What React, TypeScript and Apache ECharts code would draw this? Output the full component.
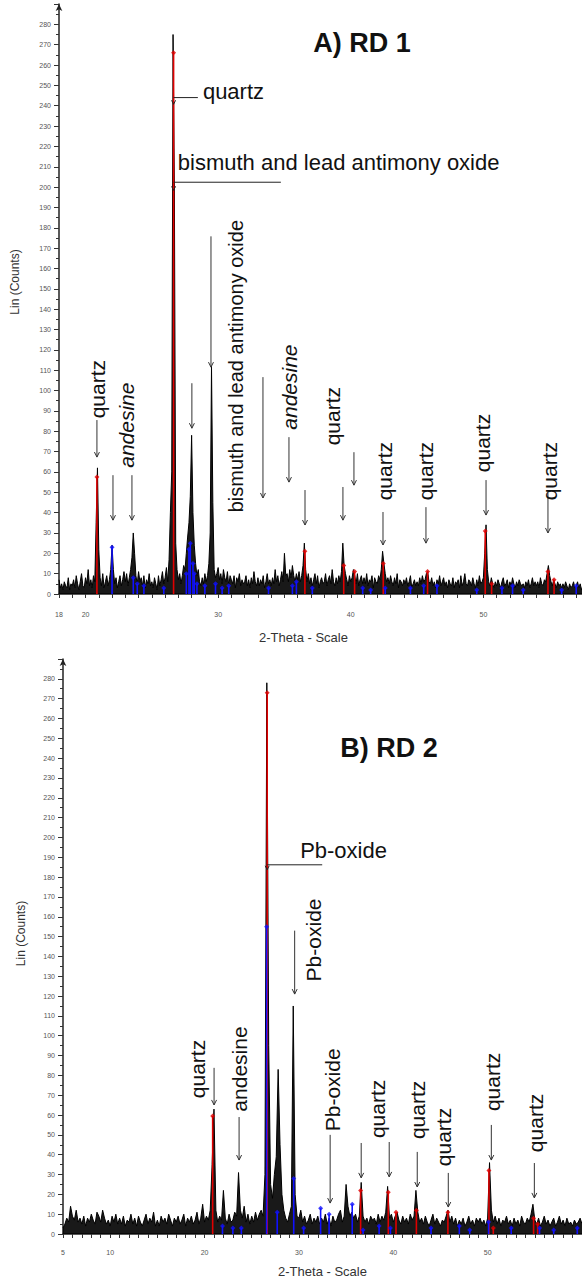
import { useEffect, useRef } from 'react';
import * as echarts from 'echarts';

// ---------- RD 1 measured pattern (2θ from 18.0, step 0.1) ----------
const rd1Start = 18;
const rd1Step = 0.1;
const rd1Counts = [
  7, 3, 5, 2, 6, 4, 3, 8, 2, 5,
  4, 7, 3, 9, 5, 2, 6, 10, 4, 3,
  8, 5, 12, 4, 7, 3, 9, 6, 35, 62,
  22, 8, 4, 10, 3, 6, 9, 4, 7, 12,
  24, 12, 5, 8, 3, 6, 9, 4, 7, 11,
  6, 10, 4, 8, 12, 18, 30, 20, 9, 5,
  11, 6, 8, 4, 9, 3, 7, 5, 10, 4,
  6, 3, 8, 5, 2, 9, 4, 7, 11, 5,
  8, 13, 6, 17, 40, 60, 275, 200, 25, 12,
  7, 10, 5, 9, 14, 12, 20, 28, 35, 48,
  78, 40, 24, 15, 9, 12, 6, 4, 8, 5,
  10, 6, 9, 15, 30, 112, 45, 12, 8, 10,
  13, 7, 10, 5, 12, 8, 6, 11, 4, 9,
  7, 5, 9, 3, 8, 6, 10, 4, 7, 5,
  6, 9, 4, 7, 3, 8, 5, 11, 6, 4,
  8, 4, 7, 5, 9, 3, 6, 10, 5, 7,
  4, 8, 5, 12, 6, 9, 4, 7, 11, 6,
  20, 9, 10, 6, 12, 8, 14, 9, 6, 10,
  7, 11, 6, 9, 14, 25, 12, 6, 10, 5,
  8, 4, 7, 10, 5, 9, 3, 6, 8, 5,
  6, 10, 4, 7, 9, 5, 12, 6, 4, 8,
  5, 9, 6, 11, 25, 14, 10, 7, 4, 9,
  6, 8, 12, 9, 5, 10, 4, 7, 9, 5,
  8, 5, 10, 4, 7, 6, 9, 3, 8, 6,
  5, 9, 7, 12, 21, 15, 10, 6, 8, 5,
  9, 6, 4, 8, 5, 10, 3, 7, 6, 4,
  7, 5, 8, 4, 6, 9, 3, 5, 7, 4,
  6, 4, 8, 5, 9, 6, 7, 10, 11, 6,
  5, 8, 4, 6, 3, 7, 5, 9, 4, 6,
  8, 4, 6, 3, 7, 5, 4, 8, 3, 6,
  5, 7, 3, 9, 4, 6, 10, 5, 4, 7,
  6, 4, 8, 5, 3, 7, 4, 9, 5, 6,
  8, 20, 34, 12, 6, 4, 8, 5, 3, 6,
  4, 7, 5, 3, 6, 8, 4, 5, 7, 3,
  6, 4, 8, 5, 3, 6, 4, 7, 5, 4,
  5, 3, 6, 4, 7, 3, 5, 8, 4, 6,
  4, 6, 3, 8, 5, 4, 7, 6, 10, 14,
  9, 6, 4, 7, 5, 3, 6, 4, 5, 3,
  5, 3, 6, 4, 2, 5, 3, 4, 6, 3,
  4, 6, 3, 5, 2, 4, 6, 3, 5, 4,
  3,
];

// reference patterns RD 1: [2θ, counts]
const rd1Quartz = [
  [20.86, 57.5], [26.64, 266], [36.54, 21], [39.47, 14], [40.29, 11], [42.45, 15],
  [45.79, 11], [50.14, 31], [50.62, 5], [54.87, 11], [55.33, 7],
];
const rd1Andesine = [
  [22.0, 23], [23.6, 8], [23.9, 5], [24.4, 4], [25.9, 3], [27.6, 10], [27.8, 22],
  [27.9, 25], [28.1, 15], [28.2, 10], [28.4, 5], [29.0, 4], [29.8, 5], [30.3, 3],
  [30.8, 4], [33.8, 3], [35.6, 4], [35.9, 6], [37.1, 3], [40.9, 3], [41.5, 2],
  [42.6, 3], [44.5, 3], [45.5, 4], [46.5, 4], [49.5, 2], [51.4, 3], [52.2, 4],
  [53.0, 2], [55.9, 2], [57.0, 4],
];

// ---------- RD 2 measured pattern (2θ from 5.0, step 0.2) ----------
const rd2Start = 5;
const rd2Step = 0.2;
const rd2Counts = [
  3, 5, 8, 6, 14,
  9, 7, 12, 6, 8,
  5, 9, 4, 8, 6,
  10, 7, 5, 11, 9,
  6, 12, 8, 5, 7,
  4, 9, 6, 10, 5,
  8, 5, 9, 4, 7,
  6, 10, 5, 8, 4,
  9, 6, 4, 7, 10,
  5, 8, 6, 11, 4,
  7, 4, 9, 6, 8,
  5, 10, 7, 4, 8,
  6, 9, 5, 7, 10,
  4, 8, 6, 9, 5,
  7, 11, 5, 8, 15,
  6, 9, 7, 12, 35,
  63, 12, 6, 9, 7,
  22, 8, 5, 10, 6,
  7, 11, 9, 31, 12,
  8, 14, 6, 10, 5,
  9, 6, 11, 7, 10,
  12, 9, 30, 278, 95,
  25, 18, 30, 39, 83,
  45, 20, 12, 8, 6,
  10, 14, 115, 20, 9,
  8, 12, 6, 9, 5,
  7, 10, 5, 8, 6,
  9, 5, 8, 6, 10,
  5, 8, 4, 9, 6,
  7, 10, 12, 6, 9,
  25, 14, 9, 11, 8,
  10, 6, 9, 26, 9,
  6, 8, 5, 9, 7,
  8, 5, 10, 6, 9,
  7, 11, 24, 8, 10,
  6, 9, 11, 7, 5,
  9, 6, 8, 5, 10,
  7, 9, 22, 11, 6,
  8, 5, 9, 6, 4,
  7, 10, 5, 8, 6,
  4, 7, 6, 9, 12,
  6, 9, 5, 8, 4,
  7, 5, 8, 4, 6,
  9, 5, 7, 4, 8,
  6, 8, 5, 7, 4,
  8, 36, 12, 6, 9,
  5, 8, 4, 7, 6,
  9, 5, 7, 4, 8,
  5, 7, 4, 9, 6,
  5, 8, 6, 10, 15,
  7, 5, 8, 4, 6,
  9, 5, 7, 4, 6,
  8, 4, 6, 9, 5,
  7, 4, 8, 5, 6,
  4, 7, 5, 6, 8,
  5,
];

const rd2Quartz = [
  [20.86, 59.5], [26.64, 273], [36.54, 22], [39.47, 21], [40.29, 11], [42.45, 12],
  [45.79, 11], [50.14, 32], [50.6, 3], [54.87, 8], [55.3, 5],
];
const rd2Other = [
  [26.58, 155], [27.7, 11], [29.45, 28], [32.3, 13], [33.2, 10], [35.65, 15],
  [21.9, 4], [23.0, 3], [23.9, 3], [30.5, 3], [36.8, 2], [38.5, 4], [39.7, 3],
  [44.0, 3], [47.0, 4], [48.1, 2], [50.1, 6], [52.5, 3], [55.5, 3], [57.0, 2], [59.5, 3],
];

// tick labels
const rd1XTicks = [18, 20, 30, 40, 50];
const rd2XTicks = [5, 10, 20, 30, 40, 50];
const yTickMax = 280;

// annotations: [text, 2θ, counts, kind]  kind: v = vertical, vi = vertical italic, vs = vertical small, h = horizontal
const rd1Labels: [string, number, number, string][] = [
  ['quartz', 20.94, 100.7, 'v'],
  ['andesine', 23.12, 83, 'vi'],
  ['bismuth and lead antimony oxide', 31.34, 112, 'vs'],
  ['andesine', 35.41, 101.7, 'vi'],
  ['quartz', 38.66, 87.4, 'v'],
  ['quartz', 42.58, 60.4, 'v'],
  ['quartz', 45.67, 60.4, 'v'],
  ['quartz', 49.9, 74.2, 'v'],
  ['quartz', 54.95, 60.4, 'v'],
  ['quartz', 28.85, 247, 'h'],
  ['bismuth and lead antimony oxide', 26.96, 212, 'h'],
];
// arrows: [2θ, from counts, to counts]
const rd1Arrows = [
  [20.86, 85.5, 67.3], [22.07, 58.4, 36.3], [23.5, 58.4, 36.3], [28.02, 103.6, 81.5],
  [29.46, 175.8, 111.5], [33.38, 106.6, 47.2], [35.34, 77.1, 55], [36.55, 51.1, 33.9],
  [39.41, 52.6, 36.3], [40.24, 69.7, 53.5], [42.43, 40.3, 24.1], [45.67, 42.7, 25],
  [50.2, 56, 38.8], [54.87, 49.6, 30],
];
// leaders: [peak 2θ, end 2θ, line counts, arrow tip counts]
const rd1Leaders = [
  [26.64, 28.47, 244, 240.7],
  [26.64, 34.73, 202.4, 198.4],
];

const rd2Labels: [string, number, number, string][] = [
  ['quartz', 19.21, 83.2, 'v'],
  ['andesine', 23.66, 83.2, 'v'],
  ['Pb-oxide', 31.51, 148.3, 'v'],
  ['Pb-oxide', 33.53, 72.7, 'v'],
  ['quartz', 38.3, 63.1, 'v'],
  ['quartz', 42.54, 62.6, 'v'],
  ['quartz', 45.3, 48.9, 'v'],
  ['quartz', 50.49, 76.7, 'v'],
  ['quartz', 55.05, 56, 'v'],
  ['Pb-oxide', 30.13, 193.2, 'h'],
];
const rd2Arrows = [
  [21.01, 83.8, 65.1], [23.66, 59, 37.3], [29.55, 153, 121], [33.31, 50, 15.6],
  [36.6, 45.9, 28.3], [39.57, 46.4, 28.8], [42.54, 41.4, 23.7], [45.83, 30.8, 13.6],
  [50.39, 55, 37.3], [54.95, 35.8, 18.2],
];
const rd2Leaders = [
  [26.64, 32.47, 186.2, 183.7],
];

const FONT = "'Liberation Sans', Arial, sans-serif";

function toSeries(start: number, step: number, counts: number[]) {
  return counts.map((c, i) => [+(start + i * step).toFixed(2), c]);
}

function xAxis(gridIndex: number, min: number, ticks: number[], margin: number, nameGap: number, namePad: number[]) {
  return {
    type: 'value', gridIndex, min, max: 60, interval: 1,
    axisLine: { lineStyle: { color: '#222', width: 1.5 } },
    axisTick: { length: 4, lineStyle: { color: '#333', width: 1 } },
    axisLabel: {
      fontSize: 7, color: '#555', fontFamily: FONT, margin,
      formatter: (v: number) => (ticks.includes(v) ? String(v) : ''),
    },
    splitLine: { show: false },
    name: '2-Theta - Scale', nameLocation: 'middle', nameGap,
    nameTextStyle: { fontSize: 13, color: '#333', fontFamily: FONT, padding: namePad },
  };
}

function yAxis(gridIndex: number, nameGap: number, namePad: number[]) {
  return {
    type: 'value', gridIndex, min: 0, max: 290, interval: 10,
    axisLine: { symbol: ['none', 'arrow'], symbolSize: [5, 7], lineStyle: { color: '#222', width: 1.5 } },
    axisTick: { length: 5, lineStyle: { color: '#333' } },
    minorTick: { show: true, splitNumber: 2, length: 3, lineStyle: { color: '#333' } },
    axisLabel: {
      fontSize: 7, color: '#555', fontFamily: FONT, margin: 8,
      formatter: (v: number) => (v <= yTickMax ? String(v) : ''),
    },
    splitLine: { show: false },
    name: 'Lin (Counts)', nameLocation: 'middle', nameGap,
    nameTextStyle: { fontSize: 12, color: '#333', fontFamily: FONT, padding: namePad },
  };
}

function stickSeries(g: number, data: number[][], color: string) {
  return [
    {
      type: 'custom', xAxisIndex: g, yAxisIndex: g, z: 3, silent: true,
      data,
      renderItem: (_p: any, api: any) => {
        const a = api.coord([api.value(0), 0]);
        const b = api.coord([api.value(0), api.value(1)]);
        return { type: 'line', shape: { x1: a[0], y1: a[1], x2: b[0], y2: b[1] }, style: { stroke: color, lineWidth: 1.6 } };
      },
    },
    {
      type: 'scatter', xAxisIndex: g, yAxisIndex: g, z: 5, silent: true,
      data, symbol: 'diamond', symbolSize: 5, itemStyle: { color },
    },
  ];
}

function labelSeries(g: number, labels: [string, number, number, string][]) {
  return {
    type: 'custom', xAxisIndex: g, yAxisIndex: g, z: 6, silent: true,
    data: labels.map((l) => [l[1], l[2]]),
    renderItem: (p: any, api: any) => {
      const l = labels[p.dataIndex];
      const pt = api.coord([api.value(0), api.value(1)]);
      const kind = l[3];
      const horiz = kind === 'h';
      return {
        type: 'text', x: pt[0], y: pt[1], rotation: horiz ? 0 : Math.PI / 2,
        style: {
          text: l[0], fill: '#111', fontFamily: FONT,
          fontSize: kind === 'vs' ? 20 : horiz ? 22 : 21,
          fontStyle: kind === 'vi' ? 'italic' : 'normal',
          align: horiz ? 'left' : 'center', verticalAlign: 'middle',
        },
      };
    },
  };
}

function arrowSeries(g: number, arrows: number[][]) {
  return {
    type: 'custom', xAxisIndex: g, yAxisIndex: g, z: 4, silent: true,
    data: arrows,
    renderItem: (_p: any, api: any) => {
      const a = api.coord([api.value(0), api.value(1)]);
      const b = api.coord([api.value(0), api.value(2)]);
      return {
        type: 'group',
        children: [
          { type: 'line', shape: { x1: a[0], y1: a[1], x2: b[0], y2: b[1] }, style: { stroke: '#333', lineWidth: 1 } },
          { type: 'polyline', shape: { points: [[b[0] - 2.5, b[1] - 5], [b[0], b[1]], [b[0] + 2.5, b[1] - 5]] }, style: { stroke: '#333', lineWidth: 1, fill: null } },
        ],
      };
    },
  };
}

function leaderSeries(g: number, leaders: number[][]) {
  return {
    type: 'custom', xAxisIndex: g, yAxisIndex: g, z: 4, silent: true,
    data: leaders,
    renderItem: (_p: any, api: any) => {
      const a = api.coord([api.value(0), api.value(2)]);
      const b = api.coord([api.value(1), api.value(2)]);
      const t = api.coord([api.value(0), api.value(3)]);
      return {
        type: 'group',
        children: [
          { type: 'line', shape: { x1: a[0], y1: a[1], x2: b[0], y2: b[1] }, style: { stroke: '#222', lineWidth: 1 } },
          { type: 'polyline', shape: { points: [[t[0] - 2, t[1] - 4], [t[0], t[1]], [t[0] + 2, t[1] - 4]] }, style: { stroke: '#222', lineWidth: 1, fill: null } },
        ],
      };
    },
  };
}

function patternSeries(g: number, data: number[][]) {
  return {
    type: 'line', xAxisIndex: g, yAxisIndex: g, z: 2, silent: true,
    data, showSymbol: false,
    lineStyle: { color: '#000', width: 1 },
    areaStyle: { color: '#000', opacity: 0.9 },
  };
}

export default function App() {
  const ref = useRef<HTMLDivElement>(null);
  useEffect(() => {
    document.body.style.margin = '0';
    const chart = echarts.init(ref.current!, undefined, { renderer: 'svg' });
    chart.setOption({
      animation: false,
      backgroundColor: '#fff',
      grid: [
        { left: 59, top: 4, width: 557, height: 590, outerBoundsMode: 'none' },
        { left: 63, top: 659, width: 519, height: 575, outerBoundsMode: 'none' },
      ],
      xAxis: [
        xAxis(0, 18, rd1XTicks, 17, 37, [0, 68, 0, 0]),
        xAxis(1, 5, rd2XTicks, 15, 31, [0, 0, 0, 0]),
      ],
      yAxis: [yAxis(0, 38, [0, 0, 0, 34]), yAxis(1, 36, [0, 0, 0, 26])],
      graphic: [
        { type: 'text', x: 362, y: 43, style: { text: 'A) RD 1', fill: '#111', font: `bold 27px ${FONT}`, align: 'center', verticalAlign: 'middle' } },
        { type: 'text', x: 389, y: 748, style: { text: 'B) RD 2', fill: '#111', font: `bold 27px ${FONT}`, align: 'center', verticalAlign: 'middle' } },
      ],
      series: [
        ...stickSeries(0, rd1Quartz, '#e00000'),
        ...stickSeries(0, rd1Andesine, '#1010ff'),
        patternSeries(0, toSeries(rd1Start, rd1Step, rd1Counts)),
        arrowSeries(0, rd1Arrows),
        leaderSeries(0, rd1Leaders),
        labelSeries(0, rd1Labels),
        ...stickSeries(1, rd2Quartz, '#e00000'),
        ...stickSeries(1, rd2Other, '#1010ff'),
        patternSeries(1, toSeries(rd2Start, rd2Step, rd2Counts)),
        arrowSeries(1, rd2Arrows),
        leaderSeries(1, rd2Leaders),
        labelSeries(1, rd2Labels),
      ],
    });
    return () => chart.dispose();
  }, []);
  return <div ref={ref} style={{ width: 582, height: 1282 }} />;
}
